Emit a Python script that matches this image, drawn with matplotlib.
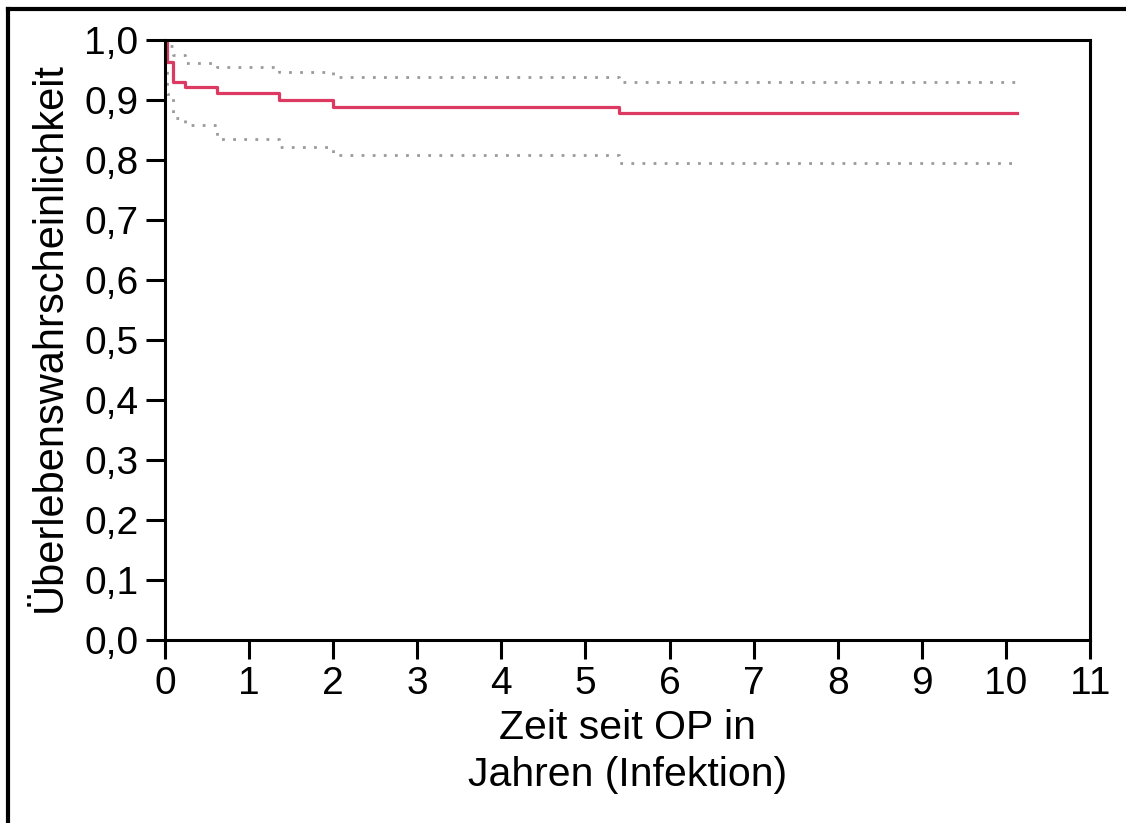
import matplotlib
matplotlib.use("Agg")
import matplotlib.pyplot as plt
from matplotlib.lines import Line2D
from matplotlib.ticker import FuncFormatter

# Kaplan-Meier estimate (infection-free survival) with pointwise confidence band
times = [0.0, 0.024, 0.095, 0.24, 0.62, 1.36, 2.0, 5.4, 10.13]
survival = [1.0, 0.963, 0.930, 0.922, 0.912, 0.900, 0.889, 0.878, 0.878]
upper_ci = [1.0, 0.990, 0.975, 0.962, 0.955, 0.947, 0.938, 0.930, 0.930]
lower_ci = [1.0, 0.910, 0.870, 0.858, 0.835, 0.822, 0.808, 0.795, 0.795]

x_ticks = list(range(0, 12))
y_ticks = [i / 10 for i in range(0, 11)]

plt.rcParams['font.family'] = ['Liberation Sans', 'DejaVu Sans']

fig = plt.figure(figsize=(11.26, 8.23), dpi=100)
ax = fig.add_axes([165 / 1126, 1 - 640 / 823, (1090 - 165) / 1126, 600 / 823])

ax.step(times, upper_ci, where='post', color='#9a9a9a', lw=2.0,
        linestyle=(0, (1, 3)))
ax.step(times, lower_ci, where='post', color='#9a9a9a', lw=2.0,
        linestyle=(0, (1, 3)))
ax.step(times, survival, where='post', color='#dc3a62', lw=2.3)

ax.set_xlim(0, 11)
ax.set_ylim(0, 1)
ax.set_xticks(x_ticks)
ax.set_yticks(y_ticks)
ax.yaxis.set_major_formatter(FuncFormatter(lambda v, p: f"{v:.1f}".replace('.', ',')))

for s in ax.spines.values():
    s.set_linewidth(2.2)
ax.tick_params(axis='both', direction='out', length=14, width=2.2,
               labelsize=28, pad=5)

ax.set_xlabel("Zeit seit OP in\nJahren (Infektion)", fontsize=29.5, labelpad=5,
              linespacing=1.28)
ax.set_ylabel("Überlebenswahrscheinlichkeit", fontsize=30)
ax.yaxis.set_label_coords(-0.103, 0.505)

# outer frame along the top and left edge of the figure
fig.add_artist(Line2D([8 / 1126, 1.0], [1 - 9 / 823, 1 - 9 / 823],
                      transform=fig.transFigure, color='black', lw=3))
fig.add_artist(Line2D([8 / 1126, 8 / 1126], [0.0, 1 - 9 / 823],
                      transform=fig.transFigure, color='black', lw=3))

fig.savefig("out.png", dpi=100)
